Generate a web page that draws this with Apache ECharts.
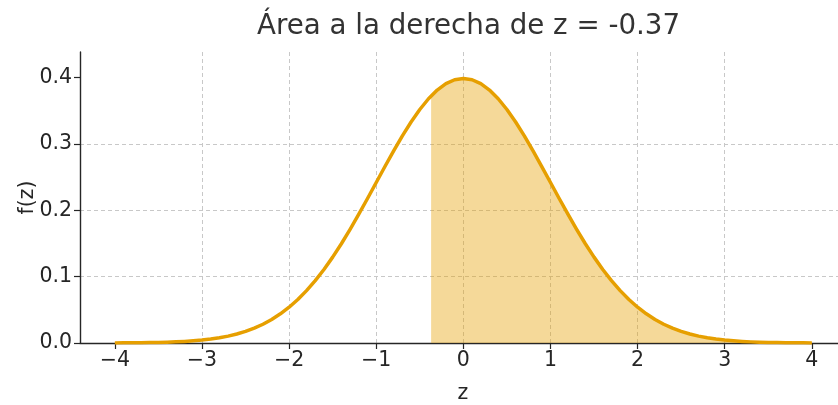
<!DOCTYPE html>
<html>
<head>
<meta charset="utf-8">
<script src="https://cdn.jsdelivr.net/npm/echarts@6/dist/echarts.min.js"></script>
<style>html,body{margin:0;padding:0;background:#fff}#c{width:838px;height:405px}</style>
</head>
<body>
<div id="c"></div>
<script>
const titleText = 'Área a la derecha de z = -0.37';
const xTicks = [-4, -3, -2, -1, 0, 1, 2, 3, 4];
const yTicks = [0, 0.1, 0.2, 0.3, 0.4];
const zValues = [-4.0,-3.9,-3.8,-3.7,-3.6,-3.5,-3.4,-3.3,-3.2,-3.1,-3.0,-2.9,-2.8,-2.7,-2.6,-2.5,-2.4,-2.3,-2.2,-2.1,-2.0,-1.9,-1.8,-1.7,-1.6,-1.5,-1.4,-1.3,-1.2,-1.1,-1.0,-0.9,-0.8,-0.7,-0.6,-0.5,-0.4,-0.3,-0.2,-0.1,0.0,0.1,0.2,0.3,0.4,0.5,0.6,0.7,0.8,0.9,1.0,1.1,1.2,1.3,1.4,1.5,1.6,1.7,1.8,1.9,2.0,2.1,2.2,2.3,2.4,2.5,2.6,2.7,2.8,2.9,3.0,3.1,3.2,3.3,3.4,3.5,3.6,3.7,3.8,3.9,4.0];
const densityValues = [0.0001,0.0002,0.0003,0.0004,0.0006,0.0009,0.0012,0.0017,0.0024,0.0033,0.0044,0.0060,0.0079,0.0104,0.0136,0.0175,0.0224,0.0283,0.0355,0.0440,0.0540,0.0656,0.0790,0.0940,0.1109,0.1295,0.1497,0.1714,0.1942,0.2179,0.2420,0.2661,0.2897,0.3123,0.3332,0.3521,0.3683,0.3814,0.3910,0.3970,0.3989,0.3970,0.3910,0.3814,0.3683,0.3521,0.3332,0.3123,0.2897,0.2661,0.2420,0.2179,0.1942,0.1714,0.1497,0.1295,0.1109,0.0940,0.0790,0.0656,0.0540,0.0440,0.0355,0.0283,0.0224,0.0175,0.0136,0.0104,0.0079,0.0060,0.0044,0.0033,0.0024,0.0017,0.0012,0.0009,0.0006,0.0004,0.0003,0.0002,0.0001];
const shadeStart = -0.37;
const shadeStartDensity = 0.3726;

const curve = zValues.map((z, i) => [z, densityValues[i]]);
const shade = [[shadeStart, shadeStartDensity]].concat(curve.filter(p => p[0] > shadeStart));

const FONT = 'DejaVu Sans';
const TXT = '#262626';
const fmtNum = v => (v < 0 ? '\u2212' + Math.abs(v) : String(v));

const chart = echarts.init(document.getElementById('c'), null, {renderer: 'canvas'});
chart.setOption({
  animation: false,
  title: {
    text: titleText, left: 463.5, textAlign: 'center', top: 8,
    textStyle: {fontFamily: FONT, fontSize: 27.7, fontWeight: 'normal', color: '#333'}
  },
  grid: {left: 80, right: 0, top: 52, bottom: 62, containLabel: false, outerBoundsMode: 'none'},
  xAxis: {
    type: 'value', min: -4.4, max: 4.3,
    name: 'z', nameLocation: 'middle', nameGap: 40,
    nameTextStyle: {fontFamily: FONT, fontSize: 20.5, color: TXT, padding: [0, 0, 0, 8]},
    axisLine: {show: true, onZero: false, lineStyle: {color: '#262626', width: 1.4}},
    axisTick: {show: true, inside: false, length: 6, lineStyle: {color: '#262626', width: 1.2}, customValues: xTicks},
    axisLabel: {fontFamily: FONT, fontSize: 20.5, color: TXT, margin: 7, customValues: xTicks, formatter: fmtNum},
    splitLine: {show: true, showMinLine: false, showMaxLine: false, lineStyle: {color: '#c8c8c8', type: [4, 3], width: 1}}
  },
  yAxis: {
    type: 'value', min: 0, max: 0.4388, interval: 0.1,
    name: 'f(z)', nameLocation: 'middle', nameGap: 42, nameRotate: 90, nameMoveOverlap: false,
    nameTextStyle: {fontFamily: FONT, fontSize: 20.5, color: TXT},
    axisLine: {show: true, onZero: false, lineStyle: {color: '#262626', width: 1.4}},
    axisTick: {show: true, inside: false, length: 6, lineStyle: {color: '#262626', width: 1.2}, customValues: yTicks},
    axisLabel: {fontFamily: FONT, fontSize: 20.5, color: TXT, margin: 8, showMaxLabel: false, formatter: v => v.toFixed(1)},
    splitLine: {show: true, showMinLine: false, showMaxLine: false, lineStyle: {color: '#c8c8c8', type: [4, 3], width: 1}}
  },
  series: [
    {
      type: 'line', data: shade, smooth: false, symbol: 'none',
      lineStyle: {width: 0, opacity: 0},
      areaStyle: {color: '#E69F00', opacity: 0.4, origin: 'start'},
      z: 2
    },
    {
      type: 'line', data: curve, smooth: false, symbol: 'none',
      lineStyle: {color: '#E69F00', width: 3.5, join: 'round'},
      z: 3
    }
  ]
});
</script>
</body>
</html>
